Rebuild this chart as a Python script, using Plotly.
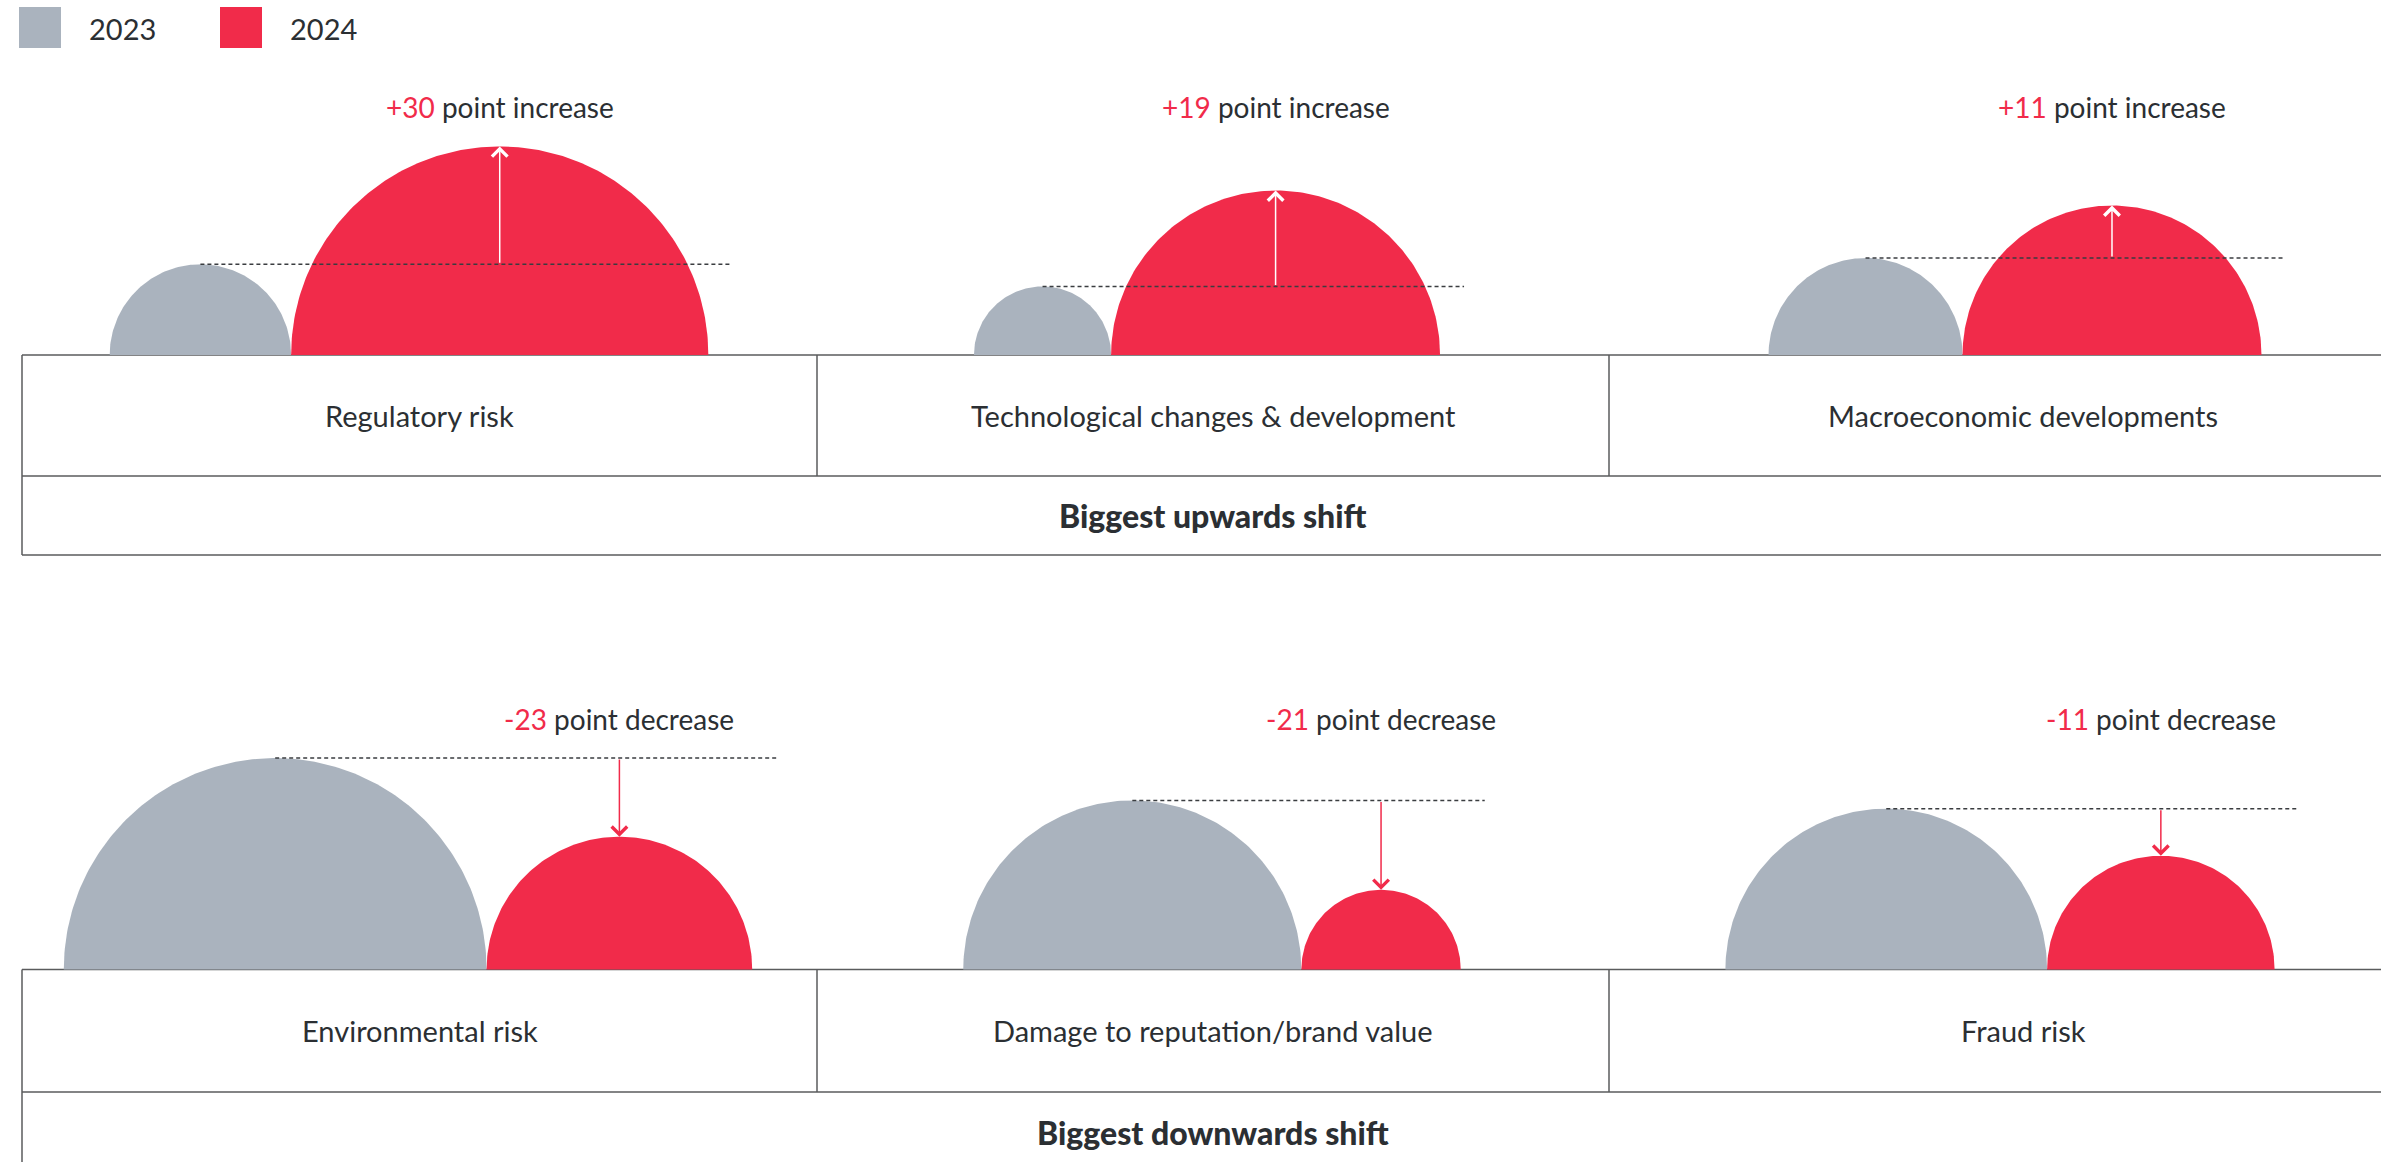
import numpy as np
import plotly.graph_objects as go

# survey scores (circle area ~ score), 2023 vs 2024
years = ["2023", "2024"]

up_risks = ["Regulatory risk", "Technological changes & development", "Macroeconomic developments"]
up_2023 = [7, 4, 8]
up_2024 = [37, 23, 19]
up_shift = [30, 19, 11]

down_risks = ["Environmental risk", "Damage to reputation/brand value", "Fraud risk"]
down_2023 = [38, 24.3, 22]
down_2024 = [15, 5.4, 11]
down_shift = [-23, -21, -11]

W, H = 2381, 1162
GREY = "#AAB3BE"
RED = "#F12B4A"
INK = "#2B2F33"
RULE = "#5A5B5D"
FONT = "Lato"
AREA = 1176  # px^2 of half-disc radius^2 per point

col_edges = [22, 817, 1609, 2437]

sections = [
    dict(title="Biggest upwards shift", risks=up_risks, a=up_2023, b=up_2024, shift=up_shift,
         word="increase", base=355, mid=476, bottom=555, label_y=107, arrow="white",
         pair_mid=[409, 1207, 2015]),
    dict(title="Biggest downwards shift", risks=down_risks, a=down_2023, b=down_2024, shift=down_shift,
         word="decrease", base=969.5, mid=1092, bottom=1172, label_y=719, arrow=RED,
         pair_mid=[408, 1212, 2000]),
]


def half_disc(cx, r, base):
    t = np.linspace(0, np.pi, 160)
    return cx + r * np.cos(t), base - r * np.sin(t)


fig = go.Figure()
annotations = []
shapes = []

for sec in sections:
    base = sec["base"]
    for i, risk in enumerate(sec["risks"]):
        rg = np.sqrt(AREA * sec["a"][i])
        rr = np.sqrt(AREA * sec["b"][i])
        left = sec["pair_mid"][i] - (rg + rr)
        cg = left + rg
        cr = left + 2 * rg + rr

        for cx, r, col in [(cg, rg, GREY), (cr, rr, RED)]:
            x, y = half_disc(cx, r, base)
            fig.add_trace(go.Scatter(
                x=x, y=y, mode="lines", fill="toself", fillcolor=col,
                line=dict(width=0, color=col), hoverinfo="skip", showlegend=False,
            ))

        # reference level of 2023
        fig.add_trace(go.Scatter(
            x=[cg, cr + rr + 24], y=[base - rg, base - rg], mode="lines",
            line=dict(color="#3A3D40", width=1.5, dash="4px,3px"),
            hoverinfo="skip", showlegend=False,
        ))

        annotations.append(dict(
            x=cr, y=base - rr, ax=cr, ay=base - rg, xref="x", yref="y", axref="x", ayref="y",
            showarrow=True, arrowhead=4, arrowsize=2, arrowwidth=1.5,
            arrowcolor=sec["arrow"], text="",
        ))
        s = sec["shift"][i]
        annotations.append(dict(
            x=cr, y=sec["label_y"], xref="x", yref="y", showarrow=False,
            text=f"<span style='color:{RED}'>{s:+d}</span> point {sec['word']}",
            font=dict(family=FONT, size=28, color=INK),
        ))
        annotations.append(dict(
            x=(col_edges[i] + col_edges[i + 1]) / 2, y=(base + sec["mid"]) / 2,
            xref="x", yref="y", showarrow=False, text=risk,
            font=dict(family=FONT, size=29, color=INK),
        ))

    annotations.append(dict(
        x=1213, y=(sec["mid"] + sec["bottom"]) / 2, xref="x", yref="y", showarrow=False,
        text=sec["title"], font=dict(family=FONT, size=32, color=INK, weight=900),
    ))

    # table rules
    for yy in [base, sec["mid"], sec["bottom"]]:
        shapes.append(dict(type="line", x0=col_edges[0], x1=W + 50, y0=yy, y1=yy,
                           xref="x", yref="y", line=dict(color=RULE, width=1.5), layer="below"))
    for xx in col_edges[:3]:
        shapes.append(dict(type="line", x0=xx, x1=xx, y0=base, y1=sec["mid"],
                           xref="x", yref="y", line=dict(color=RULE, width=1.5), layer="below"))
    shapes.append(dict(type="line", x0=col_edges[0], x1=col_edges[0], y0=sec["mid"], y1=sec["bottom"],
                       xref="x", yref="y", line=dict(color=RULE, width=1.5), layer="below"))

# legend
for k, (yr, col) in enumerate(zip(years, [GREY, RED])):
    x0 = 19 + k * 201
    shapes.append(dict(type="rect", x0=x0, x1=x0 + 42, y0=7, y1=48, xref="x", yref="y",
                       fillcolor=col, line=dict(width=0)))
    annotations.append(dict(x=x0 + 68, y=28, xref="x", yref="y", xanchor="left", showarrow=False,
                            text=yr, font=dict(family=FONT, size=29, color=INK)))

fig.update_layout(
    width=W, height=H, margin=dict(l=0, r=0, t=0, b=0),
    paper_bgcolor="white", plot_bgcolor="white",
    xaxis=dict(range=[0, W], visible=False, fixedrange=True),
    yaxis=dict(range=[H, 0], visible=False, fixedrange=True),
    annotations=annotations, shapes=shapes, showlegend=False,
)

fig.write_html("out.html", config={"displayModeBar": False},
               post_script="document.body.style.margin='0';document.body.style.overflow='hidden';")
